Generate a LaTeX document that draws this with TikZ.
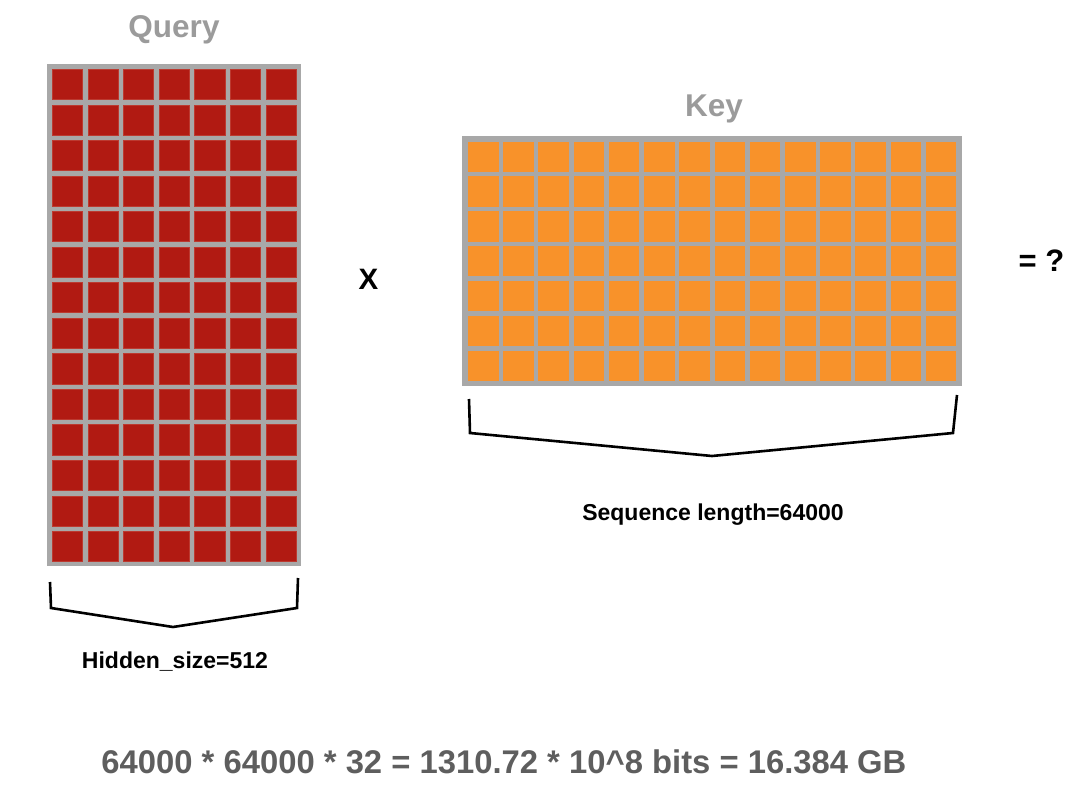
\documentclass[tikz,border=0pt]{standalone}
\usepackage{fontspec}
\setmainfont{Liberation Sans}
\definecolor{qred}{HTML}{B11A12}
\definecolor{qredline}{HTML}{BC3A30}
\definecolor{korange}{HTML}{F8922A}
\definecolor{gridgray}{HTML}{A8A8A8}
\definecolor{titlegray}{HTML}{9B9B9B}
\definecolor{formulagray}{HTML}{5E5E5E}
\tikzset{
  frame/.style={fill=gridgray, draw=none},
  qcell/.style={fill=qred, draw=qredline, line width=0.7pt},
  kcell/.style={fill=korange, draw=none},
  brace/.style={draw=black, line width=2.6pt, line join=miter},
  title/.style={font=\bfseries\fontsize{31.5}{36}\selectfont, text=titlegray, anchor=base, inner sep=0pt},
  label/.style={font=\bfseries\fontsize{23}{27}\selectfont, text=black, anchor=base, inner sep=0pt},
  op/.style={font=\bfseries\fontsize{31}{36}\selectfont, text=black, anchor=base, inner sep=0pt},
  formula/.style={font=\bfseries\fontsize{32.8}{38}\selectfont, text=formulagray, anchor=base, inner sep=0pt}
}
\begin{document}
\begin{tikzpicture}[x=1pt,y=-1pt]
\useasboundingbox (0,0) rectangle (1080,798);
% Query matrix
\fill[frame] (47,64) rectangle (301,566);
\foreach \i in {0,...,6}{
  \foreach \j in {0,...,13}{
    \path[qcell] ({52.3+\i*35.6},{69.3+\j*35.55}) rectangle ++(30.3,30.2);
  }
}
% Key matrix
\fill[frame] (462,136) rectangle (962,386);
\foreach \i in {0,...,13}{
  \foreach \j in {0,...,6}{
    \path[kcell] ({468+\i*35.22},{141.5+\j*34.9}) rectangle ++(30.6,30.2);
  }
}
% braces
\draw[brace] (50,582) -- (51,608) -- (173,627) -- (297,608) -- (298,578);
\draw[brace] (469,399) -- (470,433) -- (712,456) -- (953,433) -- (957,395);
% texts
\node[title] (query) at (174,37) {Query};
\node[title] (key) at (714,116.5) {Key};
\node[op, font=\bfseries\fontsize{29.5}{34}\selectfont] (times) at (368.5,289) {X};
\node[op] (eq) at (1041.5,271) {= ?};
\node[label] (hidden) at (175,668) {Hidden\_size=512};
\node[label] (seq) at (713,520) {Sequence length=64000};
\node[formula] (calc) at (504,773.3) {64000 * 64000 * 32 = 1310.72 * 10\textasciicircum 8 bits = 16.384 GB};
\end{tikzpicture}
\end{document}
